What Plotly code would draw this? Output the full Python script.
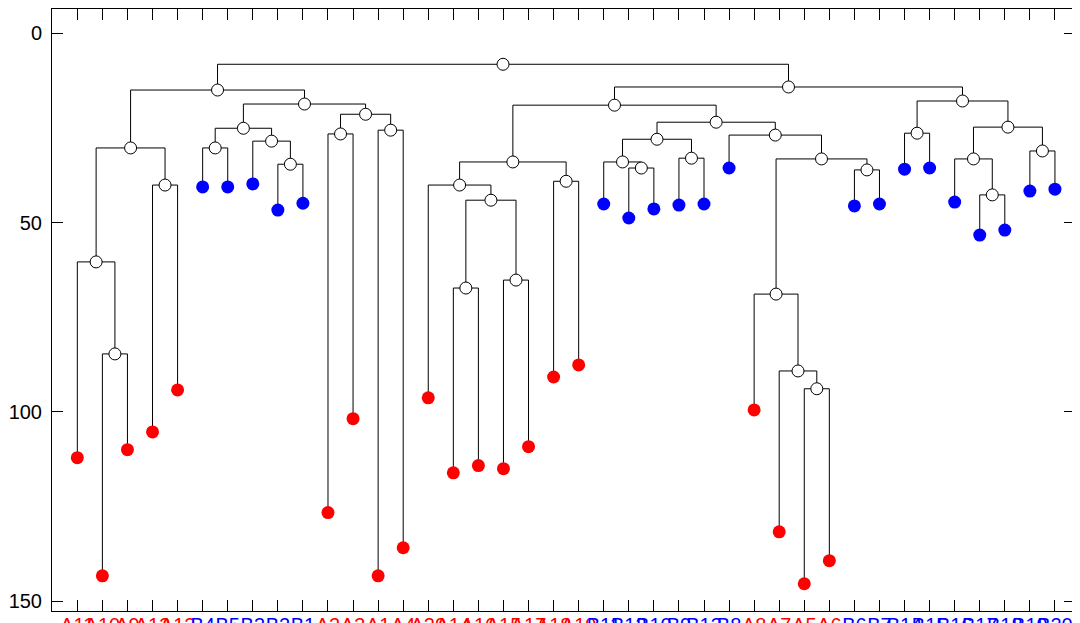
import plotly.graph_objects as go

# ---- data ----
leaf_labels = ["A11", "A10", "A9", "A13", "A12", "B4", "B5", "B3", "B2", "B1",
               "A2", "A3", "A1", "A4", "A20", "A14", "A16", "A15", "A17", "A18",
               "A19", "B11", "B12", "B10", "B9", "B13", "B8", "A8", "A7", "A5",
               "A6", "B6", "B7", "B14", "B15", "B16", "B17", "B18", "B19", "B20"]
leaf_heights = [112.1, 143.3, 110.0, 105.3, 94.2, 40.6, 40.6, 39.8, 46.7, 44.9,
                126.6, 101.8, 143.3, 135.9, 96.3, 116.1, 114.2, 115.0, 109.2, 90.8,
                87.6, 45.1, 48.8, 46.4, 45.4, 45.1, 35.6, 99.5, 131.7, 145.4,
                139.3, 45.6, 45.1, 35.9, 35.6, 44.6, 53.3, 52.0, 41.7, 41.2]
# merges: (left child id, right child id, height); new node ids start at 40
merge_left = [1, 0, 3, 41, 5, 8, 7, 44, 10, 12, 48, 47, 43,
              15, 17, 53, 14, 19, 56, 22, 21, 24, 60, 29, 28, 27, 31, 65, 26, 62, 58,
              33, 36, 35, 38, 73, 71, 70, 52]
merge_right = [2, 40, 4, 42, 6, 9, 45, 46, 11, 13, 49, 50, 51,
               16, 18, 54, 55, 20, 57, 23, 59, 25, 61, 30, 63, 64, 32, 66, 67, 68, 69,
               34, 37, 72, 39, 74, 75, 76, 77]
merge_height = [84.7, 60.4, 40.1, 30.3, 30.3, 34.6, 28.5, 25.1, 26.6, 25.6, 21.4, 18.7, 15.0,
                67.3, 65.2, 44.1, 40.1, 39.1, 34.0, 35.6, 34.0, 33.0, 28.0, 93.9, 89.2, 68.9,
                36.1, 33.2, 26.9, 23.5, 19.0, 26.4, 42.7, 33.2, 31.1, 24.8, 17.9, 14.2, 8.2]
y_ticks = [0, 50, 100, 150]

# ---- layout of tree ----
n_leaves = len(leaf_labels)
xs = list(range(n_leaves))
ys = list(leaf_heights)
for a, b, h in zip(merge_left, merge_right, merge_height):
    xs.append((xs[a] + xs[b]) / 2)
    ys.append(h)

lx, ly = [], []
for a, b, h in zip(merge_left, merge_right, merge_height):
    lx += [xs[a], xs[a], xs[b], xs[b], None]
    ly += [ys[a], h, h, ys[b], None]

fig = go.Figure()
fig.add_trace(go.Scatter(x=lx, y=ly, mode="lines",
                         line=dict(color="black", width=1), hoverinfo="skip"))
fig.add_trace(go.Scatter(x=xs[n_leaves:], y=ys[n_leaves:], mode="markers",
                         marker=dict(size=12, color="white",
                                     line=dict(color="black", width=1))))
leaf_colors = ["#ff0000" if s.startswith("A") else "#0000ff" for s in leaf_labels]
fig.add_trace(go.Scatter(x=xs[:n_leaves], y=ys[:n_leaves], mode="markers",
                         marker=dict(size=13, color=leaf_colors, line=dict(width=0))))

ticktext = ['<span style="color:%s">%s</span>' % (c, s)
            for c, s in zip(leaf_colors, leaf_labels)]

fig.update_layout(
    width=1080, height=623,
    margin=dict(l=44, r=13, t=1, b=20),
    paper_bgcolor="white", plot_bgcolor="white",
    showlegend=False,
    font=dict(family="Arial, Liberation Sans", size=20, color="black"),
    xaxis=dict(range=[-1.01, 39.8], tickvals=list(range(n_leaves)), ticktext=ticktext,
               tickangle=0,
               ticks="inside", ticklen=11, tickcolor="black", tickwidth=1,
               showline=True, linecolor="black", linewidth=1, mirror="ticks",
               showgrid=False, zeroline=False, automargin=False,
               ticklabelstandoff=-4, tickfont=dict(size=20)),
    yaxis=dict(range=[152.6, -6.4], tickvals=y_ticks,
               ticks="inside", ticklen=11, tickcolor="black", tickwidth=1,
               showline=True, linecolor="black", linewidth=1, mirror="ticks",
               showgrid=False, zeroline=False, automargin=False,
               ticklabelstandoff=5, tickfont=dict(size=20)),
)
fig.write_html("out.html")
